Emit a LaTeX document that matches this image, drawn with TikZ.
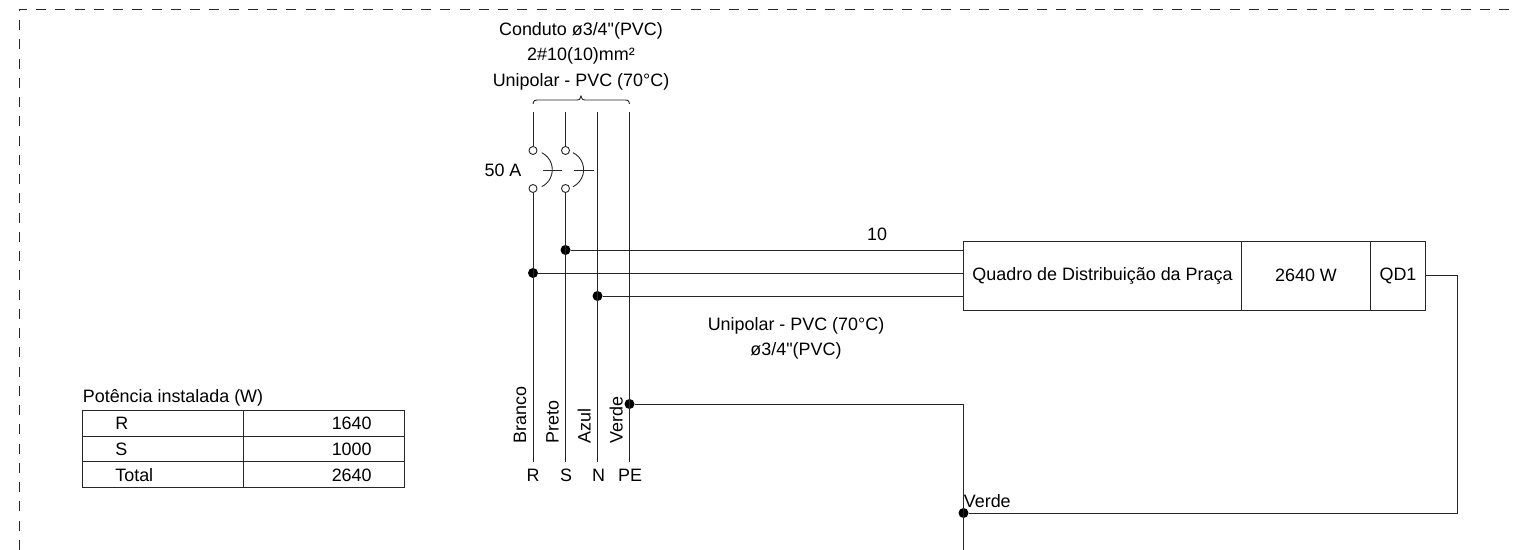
\documentclass[tikz,border=0pt]{standalone}
\usepackage{fontspec}
\newfontfamily\fonteFio{Liberation Sans}
\tikzset{
  fio/.style={line width=0.018cm, draw=black!85},
  moldura/.style={line width=0.018cm, draw=black!85, dash pattern=on 0.2cm off 0.185cm},
  juncao/.style={circle, fill=black, inner sep=0pt, minimum size=0.2cm},
  contato/.style={circle, draw=black!85, line width=0.018cm, fill=white, inner sep=0pt, minimum size=0.16cm},
  rotulo/.style={inner sep=0pt, font=\fonteFio\fontsize{10.2}{12}\selectfont},
  celula/.style={rectangle, fio, inner sep=0pt, minimum height=1.38cm, font=\fonteFio\fontsize{10.2}{12}\selectfont}
}
\begin{document}
\begin{tikzpicture}
    \useasboundingbox (0.000000,0.000000) rectangle (30.280000,11.000000);

    % Drawing dashed frame
    \coordinate (frameA) at (0.380000,0.000000);%
    \coordinate (frameB) at (0.380000,10.820000);%
    \coordinate (frameC) at (30.280000,10.820000);%
    \draw [moldura] (frameA) -- (frameB) -- (frameC);%

    % Marking top and bottom of the four conductors
    \coordinate (topR) at (10.660000,8.760000);%
    \coordinate (topS) at (11.310000,8.760000);%
    \coordinate (topN) at (11.950000,8.760000);%
    \coordinate (topPE) at (12.590000,8.760000);%
    \coordinate (botR) at (10.660000,1.760000);%
    \coordinate (botS) at (11.310000,1.760000);%
    \coordinate (botN) at (11.950000,1.760000);%
    \coordinate (botPE) at (12.590000,1.760000);%

    % Marking breaker contacts
    \node [contato] (contR1) at (10.660000,7.990000) {};%
    \node [contato] (contR2) at (10.660000,7.230000) {};%
    \node [contato] (contS1) at (11.310000,7.990000) {};%
    \node [contato] (contS2) at (11.310000,7.230000) {};%

    % Marking junctions
    \node [juncao] (dotS) at (11.310000,6.000000) {};%
    \node [juncao] (dotR) at (10.660000,5.540000) {};%
    \node [juncao] (dotN) at (11.950000,5.080000) {};%
    \node [juncao] (dotPE) at (12.590000,2.920000) {};%
    \node [juncao] (dotV) at (19.270000,0.740000) {};%

    % Drawing panel cells
    \node [celula, minimum width=5.560000cm] (qdName) at (22.050000,5.490000) {Quadro de Distribuição da Praça};%
    \node [celula, minimum width=2.580000cm] (qdPower) at (26.120000,5.490000) {2640 W};%
    \node [celula, minimum width=1.100000cm] (qdTag) at (27.960000,5.490000) {QD1};%

    % Drawing conductors R S N PE
    \draw [fio] (topR) -- (contR1);%
    \draw [fio] (contR2) -- (botR);%
    \draw [fio] (topS) -- (contS1);%
    \draw [fio] (contS2) -- (botS);%
    \draw [fio] (topN) -- (botN);%
    \draw [fio] (topPE) -- (botPE);%

    % Drawing feeders to panel
    \draw [fio] (dotS) -- (dotS -| qdName.west);%
    \draw [fio] (dotR) -- (dotR -| qdName.west);%
    \draw [fio] (dotN) -- (dotN -| qdName.west);%

    % Drawing ground path
    \coordinate (corner1) at (29.140000,5.500000);%
    \coordinate (corner2) at (29.140000,0.740000);%
    \coordinate (groundEnd) at (19.270000,0.000000);%
    \draw [fio] (dotPE) -- (dotPE -| dotV) -- (groundEnd);%
    \draw [fio] (corner1 -| qdTag.east) -- (corner1) -- (corner2) -- (dotV);%

    % Drawing breaker arcs and ticks
    \coordinate (arcR) at (10.834000,7.946000);%
    \coordinate (arcS) at (11.460000,7.946000);%
    \coordinate (tickR1) at (10.854000,7.600000);%
    \coordinate (tickR2) at (11.234000,7.600000);%
    \coordinate (tickS1) at (11.480000,7.600000);%
    \coordinate (tickS2) at (11.880000,7.600000);%
    \draw [fio] (arcR) arc (64:-64:0.378000);%
    \draw [fio] (arcS) arc (64:-64:0.378000);%
    \draw [fio] (tickR1) -- (tickR2);%
    \draw [fio] (tickS1) -- (tickS2);%

    % Drawing brace over conductors
    \coordinate (braceL) at (10.660000,8.920000);%
    \coordinate (braceR) at (12.590000,8.920000);%
    \coordinate (braceM) at (11.620000,9.080000);%
    \draw [fio] (braceL) .. controls (10.680000,9.000000) .. (10.800000,9.000000) -- (11.540000,9.000000) .. controls (11.590000,9.000000) .. (braceM) .. controls (11.650000,9.000000) .. (11.700000,9.000000) -- (12.450000,9.000000) .. controls (12.570000,9.000000) .. (braceR);%

    % Writing cable labels
    \node [rotulo] (cab1) at (11.620000,10.390000) {Conduto ø3/4"(PVC)};%
    \node [rotulo] (cab2) at (11.620000,9.880000) {2\#10(10)mm²};%
    \node [rotulo] (cab3) at (11.620000,9.360000) {Unipolar - PVC (70°C)};%
    \node [rotulo] (brk) at (10.060000,7.600000) {50 A};%
    \node [rotulo] (num) at (17.540000,6.320000) {10};%
    \node [rotulo] (cab4) at (15.920000,4.480000) {Unipolar - PVC (70°C)};%
    \node [rotulo] (cab5) at (15.920000,3.990000) {ø3/4"(PVC)};%
    \node [rotulo, anchor=base west] (verde) at (19.270000,0.840000) {Verde};%

    % Writing conductor colours
    \node [rotulo, rotate=90, anchor=base west] (corR) at (10.520000,2.120000) {Branco};%
    \node [rotulo, rotate=90, anchor=base west] (corS) at (11.170000,2.120000) {Preto};%
    \node [rotulo, rotate=90, anchor=base west] (corN) at (11.810000,2.120000) {Azul};%
    \node [rotulo, rotate=90, anchor=base west] (corPE) at (12.450000,2.120000) {Verde};%

    % Writing conductor names
    \node [rotulo] (nameR) at (10.660000,1.500000) {R};%
    \node [rotulo] (nameS) at (11.320000,1.500000) {S};%
    \node [rotulo] (nameN) at (11.970000,1.500000) {N};%
    \node [rotulo] (namePE) at (12.600000,1.500000) {PE};%

    % Drawing table
    \coordinate (tabA) at (1.650000,2.800000);%
    \coordinate (tabB) at (8.090000,1.260000);%
    \coordinate (tabC) at (4.870000,2.800000);%
    \coordinate (tabD) at (4.870000,1.260000);%
    \coordinate (tabE) at (1.650000,2.280000);%
    \coordinate (tabF) at (1.650000,1.780000);%
    \draw [fio] (tabA) rectangle (tabB);%
    \draw [fio] (tabC) -- (tabD);%
    \draw [fio] (tabE) -- (tabE -| tabB);%
    \draw [fio] (tabF) -- (tabF -| tabB);%
    \node [rotulo, anchor=base west] (tabTitle) at (1.650000,2.940000) {Potência instalada (W)};%
    \node [rotulo, anchor=west] (rowR) at (2.300000,2.540000) {R};%
    \node [rotulo, anchor=west] (rowS) at (2.300000,2.020000) {S};%
    \node [rotulo, anchor=west] (rowT) at (2.300000,1.500000) {Total};%
    \node [rotulo, anchor=east] (valR) at (7.440000,2.540000) {1640};%
    \node [rotulo, anchor=east] (valS) at (7.440000,2.020000) {1000};%
    \node [rotulo, anchor=east] (valT) at (7.440000,1.500000) {2640};%
\end{tikzpicture}
\end{document}
